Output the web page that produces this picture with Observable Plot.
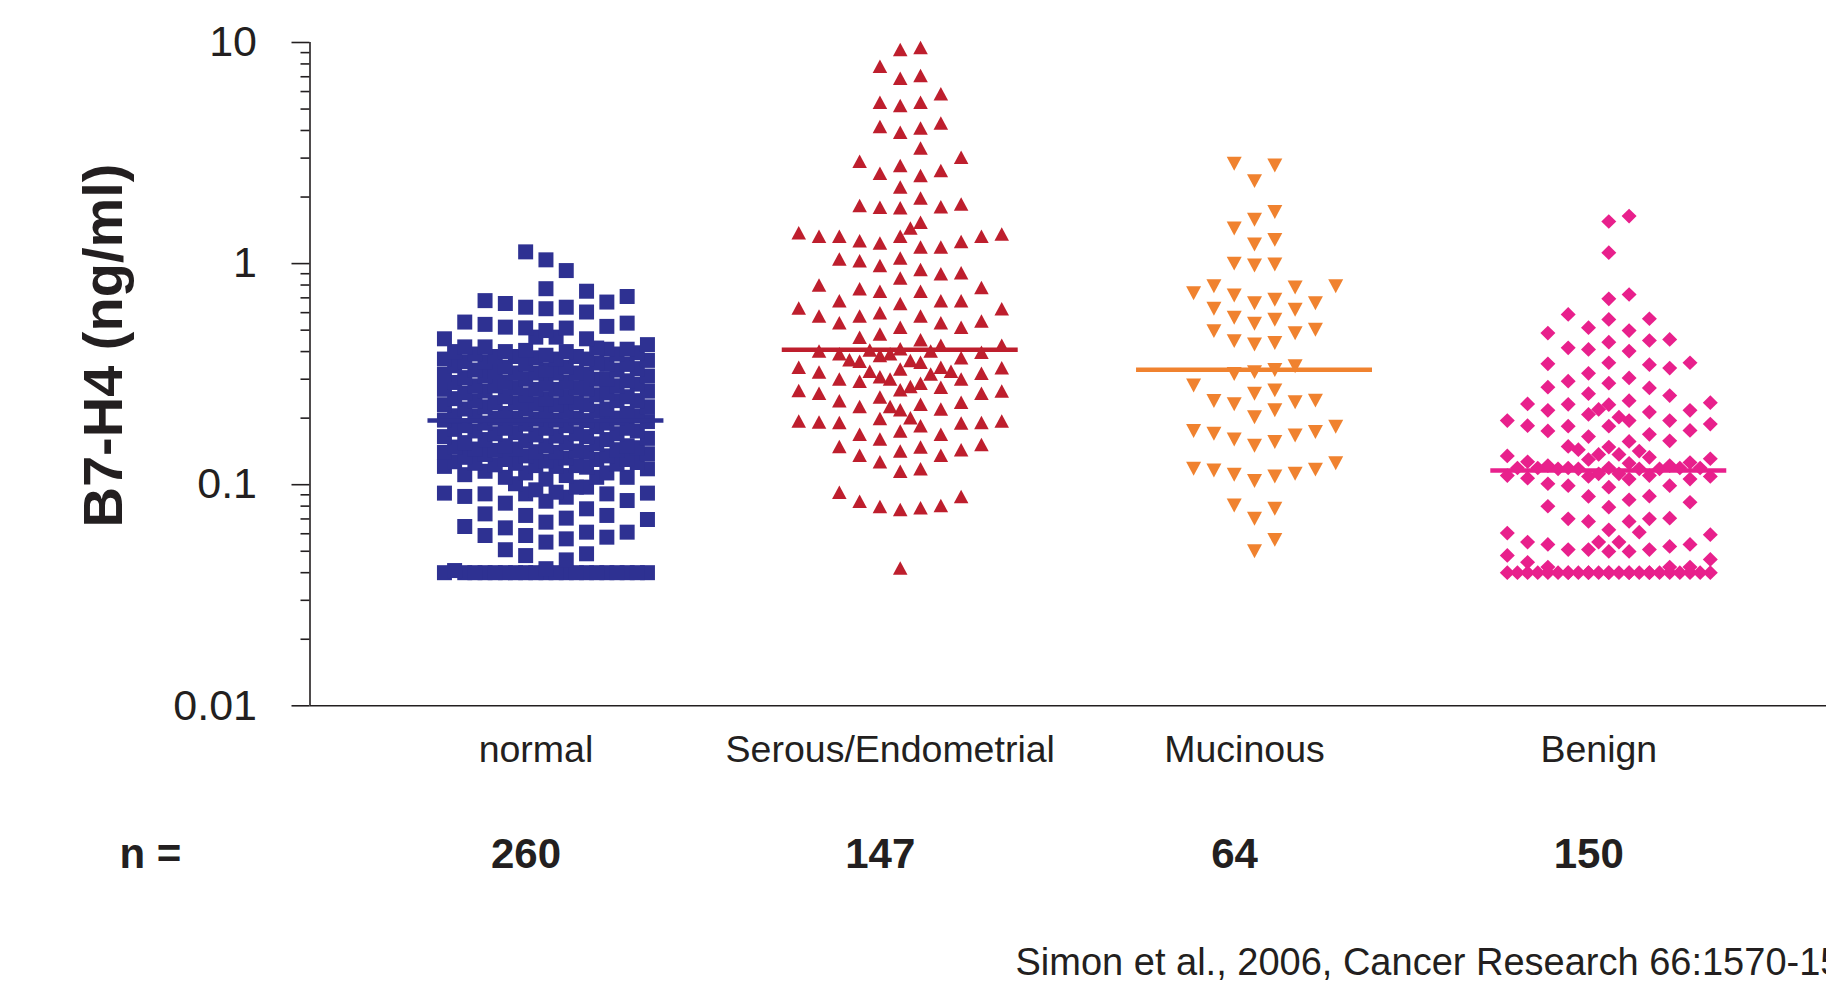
<!DOCTYPE html>
<html>
<head>
<meta charset="utf-8">
<script src="https://cdn.jsdelivr.net/npm/d3@7"></script>
<script src="https://cdn.jsdelivr.net/npm/@observablehq/plot@0.6"></script>
<style>
  html, body { margin: 0; padding: 0; background: #ffffff; overflow: hidden; }
  #chart svg { display: block; }
</style>
</head>
<body>
<div id="chart"></div>
<script>
// ---------------- data ----------------
const categories = ["normal", "Serous/Endometrial", "Mucinous", "Benign"];
const nLabels = ["260", "147", "64", "150"];
const nPrefix = "n =";
const medians = [0.195, 0.408, 0.331, 0.116];
const yTicks = [0.01, 0.1, 1, 10];
const yTickLabels = ["0.01", "0.1", "1", "10"];
const yMinorTicks = [0.02, 0.03, 0.04, 0.05, 0.06, 0.07, 0.08, 0.09,
                     0.2, 0.3, 0.4, 0.5, 0.6, 0.7, 0.8, 0.9,
                     2, 3, 4, 5, 6, 7, 8, 9];
const yLabel = "B7-H4 (ng/ml)";
const caption = "Simon et al., 2006, Cancer Research 66:1570-1575";

const normal = [
  1.13, 1.04, 0.93, 0.77, 0.75, 0.71, 0.68, 0.67, 0.66, 0.635, 0.635, 0.625, 0.604,
  0.544, 0.538, 0.531, 0.52, 0.516, 0.512, 0.511, 0.498, 0.465, 0.465, 0.457, 0.457,
  0.43, 0.42, 0.42, 0.415, 0.41, 0.41, 0.405, 0.40, 0.40, 0.40, 0.395, 0.39, 0.39, 0.385, 0.38, 0.38, 0.38, 0.375, 0.37, 0.37, 0.37,
  0.365, 0.36, 0.36, 0.355, 0.35, 0.35, 0.35, 0.345, 0.34, 0.34, 0.335, 0.33, 0.33, 0.33, 0.325, 0.32, 0.32, 0.32, 0.32, 0.315, 0.315,
  0.31, 0.31, 0.305, 0.30, 0.30, 0.30, 0.295, 0.29, 0.29, 0.29, 0.285, 0.285, 0.28, 0.28, 0.28, 0.275, 0.275, 0.27, 0.27, 0.27, 0.27,
  0.265, 0.265, 0.26, 0.26, 0.255, 0.255, 0.25, 0.25, 0.25, 0.245, 0.245, 0.24, 0.24, 0.24, 0.235, 0.235, 0.235, 0.232, 0.23, 0.23, 0.23,
  0.225, 0.225, 0.22, 0.22, 0.22, 0.215, 0.215, 0.21, 0.21, 0.21, 0.205, 0.205, 0.205, 0.20, 0.20, 0.20, 0.20, 0.198, 0.196, 0.196, 0.195,
  0.193, 0.19, 0.19, 0.188, 0.185, 0.185, 0.183, 0.18, 0.18, 0.18, 0.178, 0.175, 0.175, 0.172, 0.17, 0.17, 0.17, 0.168, 0.166, 0.165, 0.165,
  0.162, 0.16, 0.16, 0.158, 0.155, 0.155, 0.153, 0.15, 0.15, 0.15, 0.148, 0.147, 0.145, 0.145, 0.144, 0.143, 0.142, 0.141, 0.14, 0.14, 0.14,
  0.138, 0.137, 0.135, 0.135, 0.133, 0.132, 0.13, 0.13, 0.13, 0.128, 0.127, 0.126, 0.125, 0.125, 0.124, 0.123, 0.122, 0.122, 0.121, 0.12,
  0.121, 0.118, 0.115, 0.113, 0.113, 0.111, 0.110, 0.108, 0.108, 0.108, 0.106, 0.101,
  0.0975, 0.0975, 0.0948, 0.0925, 0.0916, 0.0916, 0.0909, 0.0909, 0.0909, 0.0885, 0.0878, 0.0848, 0.0842, 0.0825,
  0.0778, 0.0738, 0.0726, 0.0726, 0.0706, 0.0696, 0.0677, 0.0647, 0.0638,
  0.061, 0.061, 0.0589, 0.0589, 0.0579, 0.0569, 0.055, 0.0508,
  0.0487, 0.0478, 0.0457, 0.0417, 0.0409,
  0.04, 0.04, 0.04, 0.04, 0.04, 0.04, 0.04, 0.04, 0.04, 0.04,
  0.04, 0.04, 0.04, 0.04, 0.04, 0.04, 0.04, 0.04, 0.04, 0.04
];

const serous = [
  9.5, 9.3, 7.8, 7.1, 6.9, 5.86, 5.37, 5.19, 5.37,
  4.32, 4.17, 4.11, 3.93, 3.33, 3.03, 2.90, 2.78, 2.64, 2.56, 2.50,
  2.22, 1.98, 1.86, 1.83, 1.81, 1.80, 1.79, 1.54, 1.45,
  1.38, 1.36, 1.33, 1.33, 1.33, 1.33, 1.27, 1.26, 1.24, 1.19, 1.19,
  1.06, 1.05, 1.03, 0.98, 0.94, 0.91, 0.90, 0.86,
  0.80, 0.78, 0.77, 0.75, 0.75,
  0.68, 0.68, 0.68, 0.66, 0.63, 0.625, 0.60, 0.58, 0.58, 0.58,
  0.55, 0.54, 0.54, 0.515, 0.515, 0.48, 0.464, 0.452,
  0.427, 0.427, 0.412, 0.407, 0.402, 0.402, 0.397, 0.391, 0.391, 0.384, 0.375, 0.367, 0.365, 0.362, 0.358,
  0.340, 0.340, 0.338, 0.334,
  0.326, 0.326, 0.323, 0.319, 0.317, 0.308, 0.301, 0.301, 0.301, 0.294, 0.288,
  0.278, 0.276, 0.269, 0.267, 0.265, 0.259, 0.259, 0.249, 0.240, 0.236, 0.231, 0.226, 0.226,
  0.220, 0.218, 0.201, 0.199, 0.194, 0.194, 0.192, 0.191, 0.191, 0.190, 0.185,
  0.175, 0.169, 0.169, 0.161, 0.152, 0.149, 0.148, 0.144, 0.142, 0.136, 0.136, 0.127,
  0.118, 0.115,
  0.0925, 0.0885, 0.0842, 0.0805, 0.0797, 0.0787, 0.0773,
  0.042
];

const mucinous = [
  2.83, 2.78, 2.36,
  1.71, 1.58, 1.44, 1.28, 1.22,
  1.0, 0.99, 0.98,
  0.79, 0.78, 0.735, 0.717, 0.686, 0.662, 0.662, 0.79,
  0.625, 0.618, 0.569, 0.557, 0.535,
  0.502, 0.495, 0.484, 0.446, 0.437, 0.431,
  0.343, 0.33, 0.323, 0.317,
  0.281, 0.267, 0.258,
  0.240, 0.239, 0.236, 0.231, 0.217, 0.202,
  0.183, 0.175, 0.173, 0.170, 0.167, 0.160, 0.156, 0.150,
  0.125, 0.118, 0.117, 0.116, 0.112, 0.111, 0.109, 0.104,
  0.0805, 0.0778, 0.0701,
  0.0563, 0.0500
];

const benign = [
  1.64, 1.55, 1.12,
  0.725, 0.693,
  0.589, 0.563, 0.559,
  0.513, 0.498, 0.485,
  0.454, 0.449, 0.441, 0.416, 0.409, 0.402,
  0.356, 0.356, 0.352, 0.349, 0.337,
  0.319, 0.304, 0.294, 0.288, 0.276, 0.274,
  0.258, 0.253, 0.240, 0.235, 0.232,
  0.231, 0.230, 0.219, 0.217, 0.217, 0.213, 0.208, 0.202, 0.195, 0.195, 0.195,
  0.188, 0.185, 0.184, 0.184, 0.176, 0.175, 0.169, 0.165, 0.158, 0.157,
  0.149, 0.148, 0.144, 0.142,
  0.137, 0.137, 0.135, 0.133, 0.131, 0.130, 0.127, 0.126, 0.125, 0.122, 0.122,
  0.119, 0.119, 0.119, 0.119, 0.119, 0.119, 0.118, 0.118, 0.118, 0.118,
  0.112, 0.112, 0.110, 0.110, 0.109, 0.109, 0.107, 0.106, 0.106,
  0.101, 0.099, 0.099, 0.0975,
  0.0887, 0.0885, 0.0855, 0.0833, 0.0799, 0.0791,
  0.0706, 0.0701, 0.0701, 0.0682, 0.0682,
  0.0625, 0.0610, 0.0604, 0.0594,
  0.0550, 0.0550, 0.0550, 0.0537, 0.0537, 0.0526, 0.0509, 0.0509, 0.0509, 0.0499, 0.0499,
  0.0479, 0.0459, 0.0446,
  0.0424, 0.0424, 0.0424,
  0.04, 0.04, 0.04, 0.04, 0.04, 0.04, 0.04, 0.04, 0.04, 0.04, 0.04, 0.04, 0.04,
  0.04, 0.04, 0.04, 0.04, 0.04, 0.04, 0.04, 0.04, 0.04, 0.04, 0.04, 0.04, 0.04
];

const groupValues = [normal, serous, mucinous, benign];

// ---------------- styles ----------------
const ink = "#231F20";
const groupColors = ["#2E3192", "#BE1E2D", "#F0822F", "#E8208C"];
const font = "'Liberation Sans', Arial, Helvetica, sans-serif";

function polySymbol(pts) {
  return {
    draw(context, size) {
      const r = Math.sqrt(size / Math.PI);
      context.moveTo(pts[0][0] * r, pts[0][1] * r);
      for (let i = 1; i < pts.length; ++i) context.lineTo(pts[i][0] * r, pts[i][1] * r);
      context.closePath();
    }
  };
}
const groupSymbols = [
  polySymbol([[-1, -1], [1, -1], [1, 1], [-1, 1]]),          // square
  polySymbol([[0, -0.9], [0.97, 0.9], [-0.97, 0.9]]),         // triangle up
  polySymbol([[-1, -0.93], [1, -0.93], [0, 0.93]]),           // triangle down
  polySymbol([[0, -0.98], [1, 0], [0, 0.98], [-1, 0]])        // diamond
];

// ---------------- column-scatter layout (Prism-like) ----------------
const colStep = 0.0573;   // spacing between columns, in category units
const minSep = 0.09;      // minimum vertical separation within one column (decades)
const fullSlots = [0, 1, -1, 2, -2, 3, -3, 4, -4, 5, -5];
const halfSlots = [0.5, -0.5, 1.5, -1.5, 2.5, -2.5, 3.5, -3.5, 4.5, -4.5];
const allSlots = fullSlots.concat(halfSlots);

function layoutGroup(values, gi) {
  const items = values.map(v => ({value: v, l: Math.log10(v)})).sort((a, b) => a.l - b.l);
  const placed = new Map(allSlots.map(s => [s, []]));
  const dist = (s, l) => {
    let m = Infinity;
    for (const q of placed.get(s)) m = Math.min(m, Math.abs(q - l));
    return m;
  };
  const crowd = (s, l) => placed.get(s).filter(q => Math.abs(q - l) < minSep).length;
  for (const it of items) {
    let slot = fullSlots.find(s => dist(s, it.l) >= minSep);
    if (slot === undefined) slot = halfSlots.find(s => dist(s, it.l) >= minSep);
    if (slot === undefined) {
      let best = null;
      for (const s of allSlots) {
        const d = dist(s, it.l), c = crowd(s, it.l);
        if (!best || d > best.d + 1e-9 || (Math.abs(d - best.d) <= 1e-9 && c < best.c)) best = {s, d, c};
      }
      slot = best.s;
    }
    placed.get(slot).push(it.l);
    it.slot = slot;
    it.gi = gi;
  }
  return items;
}

const groupsData = groupValues.map((vals, gi) => layoutGroup(vals, gi));
const medianData = medians.map((m, gi) => ({gi, m}));

// ---------------- chart ----------------
const xDomain = [-0.666, 3.6145];
const marks = [
  Plot.axisY({ticks: yMinorTicks, tickSize: 9, tickFormat: () => "", label: null, stroke: ink, strokeWidth: 1.6}),
  Plot.axisY({ticks: yTicks, tickSize: 18, tickPadding: 35, fontSize: 43, label: null,
              tickFormat: d => yTickLabels[yTicks.indexOf(d)], stroke: ink, strokeWidth: 1.6, fill: ink}),
  Plot.ruleX([xDomain[0]], {stroke: ink, strokeWidth: 1.6}),
  Plot.ruleY([0.01], {stroke: ink, strokeWidth: 1.6}),
  Plot.axisX({ticks: [0, 1, 2, 3], tickFormat: i => categories[i], tickSize: 0, tickPadding: 30,
              fontSize: 37.5, dx: -10, label: null, fill: ink})
];
groupsData.forEach((pts, gi) => {
  marks.push(Plot.dot(pts, {
    x: d => d.gi + d.slot * colStep,
    y: "value",
    r: 7.5,
    symbol: groupSymbols[gi],
    fill: groupColors[gi]
  }));
  marks.push(Plot.ruleY(medianData.filter(d => d.gi === gi), {
    y: "m", x1: d => d.gi - 0.333, x2: d => d.gi + 0.333,
    stroke: groupColors[gi], strokeWidth: 4.5
  }));
});
marks.push(
  Plot.text(nLabels, {x: (d, i) => i, frameAnchor: "bottom", lineAnchor: "bottom", dx: -20, dy: 161.7,
                      fontSize: 42, fontWeight: "bold", fill: ink}),
  Plot.text([nPrefix], {frameAnchor: "bottom-left", textAnchor: "start", lineAnchor: "bottom", dx: -190.5, dy: 161.7,
                        fontSize: 42, fontWeight: "bold", fill: ink}),
  Plot.text([yLabel], {frameAnchor: "left", textAnchor: "middle", rotate: -90, lineAnchor: "bottom", dx: -188.5, dy: -28.6,
                       fontSize: 56, fontWeight: "bold", fill: ink}),
  Plot.text([caption], {frameAnchor: "bottom-left", textAnchor: "start", lineAnchor: "bottom", dx: 705.5, dy: 268.7,
                        fontSize: 38, fill: ink})
);

const chart = Plot.plot({
  width: 1826,
  height: 982,
  marginLeft: 309.5,
  marginRight: 0,
  marginTop: 42,
  marginBottom: 276.7,
  style: {fontFamily: font, color: ink, background: "#ffffff", overflow: "hidden"},
  x: {domain: xDomain},
  y: {type: "log", domain: [0.01, 10]},
  marks
});
document.getElementById("chart").appendChild(chart);
</script>
</body>
</html>
